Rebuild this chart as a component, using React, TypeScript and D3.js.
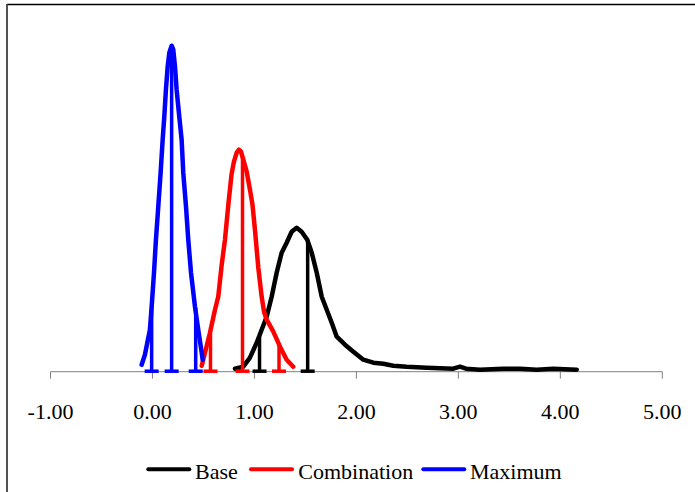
import React from "react";
import * as d3 from "d3";

// Tick labels on the x axis
const xTicks = [-1, 0, 1, 2, 3, 4, 5];

// Distribution curves: [x, density]
const baseCurve: [number, number][] = [
  [0.809, 0.03], [0.891, 0.05], [0.956, 0.14], [1.022, 0.29], [1.071, 0.42],
  [1.12, 0.55], [1.169, 0.75], [1.218, 0.99], [1.267, 1.19], [1.316, 1.29],
  [1.365, 1.4], [1.414, 1.44], [1.463, 1.4], [1.518, 1.32], [1.562, 1.19],
  [1.611, 0.99], [1.66, 0.75], [1.709, 0.62], [1.758, 0.49], [1.807, 0.35],
  [1.888, 0.27], [1.97, 0.2], [2.068, 0.12], [2.166, 0.09], [2.264, 0.08],
  [2.362, 0.06], [2.493, 0.05], [2.69, 0.04], [2.95, 0.03], [3.016, 0.05],
  [3.075, 0.03], [3.212, 0.02], [3.441, 0.03], [3.605, 0.03], [3.768, 0.02],
  [3.931, 0.03], [4.161, 0.02],
];

const combinationCurve: [number, number][] = [
  [0.483, 0.06], [0.515, 0.19], [0.564, 0.39], [0.613, 0.62], [0.645, 0.75],
  [0.679, 1.07], [0.711, 1.32], [0.744, 1.67], [0.775, 1.97], [0.799, 2.1],
  [0.826, 2.19], [0.848, 2.22], [0.868, 2.2], [0.891, 2.12], [0.924, 2.0],
  [0.956, 1.82], [0.981, 1.67], [1.005, 1.42], [1.038, 1.04], [1.071, 0.75],
  [1.094, 0.6], [1.12, 0.52], [1.185, 0.4], [1.251, 0.25], [1.316, 0.12],
  [1.381, 0.05],
];

const maximumCurve: [number, number][] = [
  [-0.106, 0.07], [-0.074, 0.17], [-0.025, 0.42], [-0.008, 0.65], [0.015, 0.99],
  [0.034, 1.32], [0.057, 1.65], [0.08, 1.99], [0.1, 2.32], [0.116, 2.55],
  [0.132, 2.82], [0.149, 3.05], [0.165, 3.19], [0.188, 3.26], [0.204, 3.22],
  [0.221, 3.05], [0.237, 2.82], [0.263, 2.55], [0.286, 2.32], [0.302, 1.99],
  [0.329, 1.65], [0.351, 1.32], [0.378, 0.99], [0.417, 0.65], [0.449, 0.42],
  [0.483, 0.19], [0.492, 0.12],
];

// Percentile markers: [x, height]
const baseMarkers: [number, number][] = [[1.05, 0.35], [1.522, 1.32]];
const combinationMarkers: [number, number][] = [[0.569, 0.39], [0.883, 2.15], [1.241, 0.28]];
const maximumMarkers: [number, number][] = [[-0.008, 0.66], [0.188, 3.26], [0.424, 0.64]];

const seriesNames = ["Base", "Combination", "Maximum"];
const seriesColors = ["#000000", "#ff0000", "#0000ff"];

const FONT = "Liberation Serif";

export default function App() {
  const W = 695;
  const H = 492;
  const x = d3.scaleLinear().domain([-1, 5]).range([50.5, 662.3]);
  const y = d3.scaleLinear().domain([0, 3.3]).range([371.7, 41.7]);
  const line = d3
    .line<[number, number]>()
    .x((d) => x(d[0]))
    .y((d) => y(d[1]));

  const curves = [baseCurve, combinationCurve, maximumCurve];
  const markers = [baseMarkers, combinationMarkers, maximumMarkers];

  // legend layout
  const legendItems = [
    { lx: 148.3, tx: 195 },
    { lx: 251, tx: 298.3 },
    { lx: 423.3, tx: 470 },
  ];

  return (
    <svg
      width={W}
      height={H}
      style={{ position: "absolute", left: 0, top: 0, background: "#fff" }}
    >
      {/* chart frame */}
      <line x1={7} y1={4.5} x2={W + 5} y2={4.5} stroke="#000" strokeWidth={1.3} />
      <line x1={7} y1={4} x2={7} y2={H + 5} stroke="#404040" strokeWidth={1.8} />

      {/* x axis */}
      <line x1={x(-1)} y1={y(0)} x2={x(5)} y2={y(0)} stroke="#808080" strokeWidth={1} />
      {xTicks.map((t) => (
        <g key={t}>
          <line x1={x(t)} x2={x(t)} y1={y(0)} y2={y(0) + 7} stroke="#808080" strokeWidth={1} />
          <text x={x(t)} y={418.5} textAnchor="middle" fontFamily={FONT} fontSize={22} fill="#000">
            {t.toFixed(2)}
          </text>
        </g>
      ))}

      {/* markers and curves */}
      {curves.map((c, i) => (
        <g key={i}>
          {markers[i].map(([mx, mh], j) => (
            <g key={j}>
              <line
                x1={x(mx)}
                x2={x(mx)}
                y1={y(0)}
                y2={y(mh)}
                stroke={seriesColors[i]}
                strokeWidth={3.5}
              />
              <line
                x1={x(mx) - 7}
                x2={x(mx) + 7}
                y1={y(0) - 0.5}
                y2={y(0) - 0.5}
                stroke={seriesColors[i]}
                strokeWidth={3.5}
              />
            </g>
          ))}
          <path
            d={line(c) || ""}
            fill="none"
            stroke={seriesColors[i]}
            strokeWidth={4.5}
            strokeLinejoin="round"
            strokeLinecap="round"
          />
        </g>
      ))}

      {/* legend */}
      {seriesNames.map((name, i) => (
        <g key={name}>
          <line
            x1={legendItems[i].lx}
            x2={legendItems[i].lx + 41}
            y1={469.3}
            y2={469.3}
            stroke={seriesColors[i]}
            strokeWidth={4}
            strokeLinecap="round"
          />
          <text x={legendItems[i].tx} y={479} fontFamily={FONT} fontSize={22} fill="#000">
            {name}
          </text>
        </g>
      ))}
    </svg>
  );
}
